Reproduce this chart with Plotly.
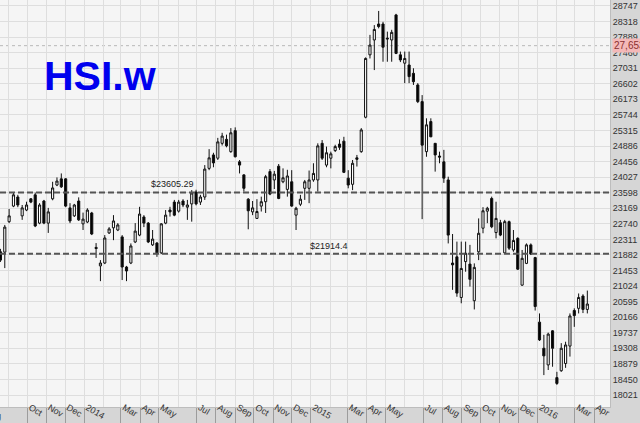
import plotly.graph_objects as go
import pandas as pd

# ---------------- data ----------------
first_week = "2013-08-19"
opens = [21970, 21960, 22800, 23230, 23480, 22960, 23120, 23430, 23540, 22760,
         23370, 22760, 23430, 23810, 23980, 23980, 23180, 22960, 23370, 22740,
         22790, 23040, 22090, 21580, 21660, 22490, 22630, 22570, 22380, 21550,
         21660, 22240, 22430, 22930, 22760, 22160, 22210, 21940, 22760, 23120,
         23340, 23090, 23370, 23200, 23290, 23620, 23340, 23480, 24270, 24640,
         24550, 24960, 25070, 24730, 25310, 24450, 24090, 23420, 23070, 22890,
         23230, 23350, 24180, 23950, 24330, 23900, 23690, 23900, 22980, 23280,
         23720, 23720, 23950, 23950, 24960, 24360, 24550, 24760, 24940, 25020,
         24000, 23830, 24560, 24730, 25680, 27400, 27810, 28250, 28250, 27860,
         27810, 28500, 27400, 27170, 27120, 26890, 26570, 26110, 24730, 25560,
         24960, 24610, 24450, 23950, 21660, 21830, 20710, 21700, 21630, 20620,
         21970, 22620, 23090, 23440, 22500, 22770, 21940, 22800, 22020, 22340,
         21050, 21650, 22160, 21810, 20030, 19310, 18850, 19790, 18500, 18690,
         18890, 19370, 20350, 20410, 20750, 20380]
highs = [22050, 22710, 23150, 23590, 23540, 23260, 23350, 23450, 23600, 23310,
         23400, 23180, 23900, 24020, 24130, 24000, 23310, 23290, 23470, 23050,
         23170, 23070, 22210, 21740, 22430, 22650, 22980, 22760, 22430, 21580,
         22200, 22760, 23210, 22980, 22790, 22570, 22240, 22760, 23120, 23210,
         23400, 23400, 23420, 23400, 23670, 23680, 23540, 24360, 24800, 24700,
         25110, 25250, 25200, 25380, 25400, 24500, 24110, 23450, 23370, 23420,
         23490, 24090, 24250, 24200, 24390, 24270, 24230, 24220, 23210, 23540,
         23950, 24210, 24410, 24960, 25050, 24870, 24730, 24920, 25070, 25140,
         24220, 24500, 24640, 25380, 27330, 27950, 28220, 28610, 28310, 28040,
         28090, 28530, 27490, 27490, 27490, 27030, 26620, 26290, 25650, 25650,
         24970, 24730, 24780, 24040, 22460, 22250, 22250, 22250, 22160, 21650,
         22890, 23200, 23210, 23490, 23350, 22850, 22850, 22830, 22570, 22370,
         22020, 22200, 22200, 21830, 20270, 19680, 19740, 19810, 18660, 19450,
         19490, 20270, 20410, 20820, 20800, 20900]
lows = [21690, 21520, 22760, 23200, 23200, 22850, 23090, 23310, 22650, 22730,
        22730, 22490, 23390, 23780, 23730, 23200, 22760, 22930, 22820, 22570,
        22760, 22430, 21800, 21160, 21630, 22460, 22290, 22540, 21190, 21160,
        21630, 22210, 22400, 22650, 22210, 22130, 21830, 21910, 22730, 22940,
        22950, 23050, 23200, 22850, 22800, 23250, 23260, 23400, 24220, 24300,
        24500, 24900, 24850, 24700, 24570, 24130, 23630, 22590, 22980, 22880,
        23080, 23040, 23530, 23700, 23420, 23860, 23490, 23210, 22570, 23230,
        23400, 23310, 23900, 23630, 24500, 24300, 24270, 24720, 24780, 24140,
        23720, 23670, 24320, 24700, 25650, 27300, 26980, 28130, 27210, 27210,
        27210, 27420, 27200, 26620, 26620, 26570, 26070, 22870, 24590, 25130,
        24180, 24410, 23870, 22200, 20920, 20730, 20550, 21420, 21010, 20380,
        21740, 22480, 22760, 22620, 22340, 22400, 21930, 22020, 21970, 21470,
        21030, 21630, 21880, 20350, 19510, 18570, 18710, 18800, 18300, 18660,
        18770, 19080, 19900, 20270, 20280, 20270]
closes = [21740, 22650, 22960, 23540, 23260, 23180, 23260, 23340, 22680, 23260,
          22760, 23070, 23730, 23920, 23760, 23230, 22820, 23260, 22850, 22870,
          23120, 22460, 22060, 21660, 22350, 22600, 22820, 22710, 21550, 21440,
          22130, 22540, 23010, 22760, 22240, 22320, 21940, 22740, 22980, 23070,
          22980, 23340, 23260, 23260, 23590, 23290, 23480, 24250, 24560, 24420,
          25000, 25160, 24890, 25250, 24590, 24360, 23720, 23100, 23180, 23080,
          23350, 24040, 23560, 24110, 23440, 24010, 24060, 23230, 23170, 23420,
          23900, 23950, 24130, 24890, 24550, 24700, 24670, 24870, 24850, 24160,
          23810, 24410, 24520, 25330, 27300, 27670, 28100, 28180, 27610, 27840,
          28020, 27440, 27260, 27300, 26800, 26660, 26110, 24910, 25470, 25140,
          24640, 24580, 24000, 22430, 21610, 20830, 21510, 21930, 21210, 21540,
          22480, 23100, 23170, 22660, 22890, 22430, 22800, 22070, 22280, 21490,
          21790, 22160, 21910, 20460, 19540, 19100, 19700, 19310, 18340, 19310,
          19400, 20200, 20210, 20710, 20380, 20530]

y_tick_values = [28747, 28318, 27889, 27460, 27031, 26602, 26173, 25744, 25315,
                 24886, 24456, 24027, 23598, 23169, 22740, 22311, 21882, 21453,
                 21024, 20595, 20166, 19737, 19308, 18879, 18450, 18021]
month_labels = ["Oct", "Nov", "Dec", "2014", "Mar", "Apr", "May", "Jul", "Aug",
                "Sep", "Oct", "Nov", "Dec", "2015", "Mar", "Apr", "May", "Jul",
                "Aug", "Sep", "Oct", "Nov", "Dec", "2016", "Mar", "Apr"]
month_label_dates = ["2013-10-01", "2013-11-01", "2013-12-01", "2014-01-01",
                     "2014-03-01", "2014-04-01", "2014-05-01", "2014-07-01",
                     "2014-08-01", "2014-09-01", "2014-10-01", "2014-11-01",
                     "2014-12-01", "2015-01-01", "2015-03-01", "2015-04-01",
                     "2015-05-01", "2015-07-01", "2015-08-01", "2015-09-01",
                     "2015-10-01", "2015-11-01", "2015-12-01", "2016-01-01",
                     "2016-03-01", "2016-04-01"]
grid_month_start = "2013-09-01"
grid_month_end = "2016-04-01"

level_values = [23605.29, 21914.4]
level_labels = ["$23605.29", "$21914.4"]
level_label_dates = ["2014-04-15", "2014-12-28"]
last_price = 27653
last_price_label = "27,653"
title_text = "HSI.w"

# ---------------- figure ----------------
dates = pd.date_range(first_week, periods=len(opens), freq="7D")
grid_months = pd.date_range(grid_month_start, grid_month_end, freq="MS")

FONT = "Liberation Sans, Arial, sans-serif"
GRID = "#dedede"

fig = go.Figure(go.Candlestick(
    x=dates, open=opens, high=highs, low=lows, close=closes,
    increasing=dict(line=dict(color="#111111", width=1), fillcolor="#ffffff"),
    decreasing=dict(line=dict(color="#111111", width=1), fillcolor="#000000"),
    whiskerwidth=0, showlegend=False, hoverinfo="skip",
))

shapes = []
for v in level_values:
    shapes.append(dict(type="line", xref="paper", x0=0, x1=1, yref="y", y0=v, y1=v,
                       line=dict(color="#555555", width=2, dash="6px,3px"), layer="above"))
shapes.append(dict(type="line", xref="paper", x0=0, x1=1, yref="y", y0=last_price,
                   y1=last_price, line=dict(color="#b8b8b8", width=1, dash="3px,3px"),
                   layer="below"))

annotations = []
for lbl, v, d in zip(level_labels, level_values, level_label_dates):
    annotations.append(dict(text=lbl, xref="x", x=d, xanchor="left", yref="y",
                            y=v, yanchor="bottom", yshift=1, showarrow=False,
                            font=dict(family=FONT, size=9, color="#222222")))
annotations += [
    dict(text="<b>" + title_text + "</b>", xref="paper", x=42 / 610, xanchor="left",
         yref="paper", y=1 - 76 / 407, yanchor="middle", showarrow=False,
         font=dict(family=FONT, size=41, color="#0000ee")),
    dict(text=last_price_label, xref="paper", x=1, xanchor="left", xshift=2,
         yref="y", y=last_price, yanchor="middle", showarrow=False,
         bgcolor="#f4b8b8", borderpad=1,
         font=dict(family=FONT, size=10, color="#8a3030")),
    dict(text="Aug", xref="paper", x=3 / 610, xanchor="right", yref="paper",
         y=-8.5 / 407, yanchor="middle", showarrow=False,
         font=dict(family=FONT, size=9, color="#333333")),
]

fig.update_layout(
    width=640, height=423,
    margin=dict(l=0, r=30, t=0, b=16, pad=0),
    paper_bgcolor="#d6d6d6",
    plot_bgcolor="#f5f5f5",
    font=dict(family=FONT, size=9, color="#333333"),
    shapes=shapes,
    annotations=annotations,
    xaxis=dict(
        type="date",
        range=["2013-08-18 07:00", "2016-04-26 12:00"],
        rangeslider=dict(visible=False),
        tickmode="array", tickvals=month_label_dates, ticktext=month_labels,
        ticks="outside", ticklen=15, tickwidth=1, tickcolor="#9c9c9c",
        ticklabelposition="outside right", ticklabelstandoff=-9, ticklabelshift=2,
        showgrid=True, gridcolor=GRID, gridwidth=1,
        minor=dict(tickmode="array", tickvals=grid_months, showgrid=True,
                   gridcolor=GRID, ticks=""),
        showline=True, linecolor="#bdbdbd", linewidth=1,
        tickfont=dict(family=FONT, size=9, color="#333333"),
        zeroline=False, fixedrange=True, automargin=False,
    ),
    yaxis=dict(
        side="right",
        range=[17690, 28912],
        tickmode="array", tickvals=y_tick_values,
        ticktext=[str(v) for v in y_tick_values],
        ticks="", showgrid=True, gridcolor=GRID, gridwidth=1,
        showline=True, linecolor="#bdbdbd", linewidth=1,
        tickfont=dict(family=FONT, size=9, color="#333333"),
        zeroline=False, fixedrange=True, automargin=False,
    ),
)

fig.write_html(
    "out.html",
    config={"displayModeBar": False},
    post_script="document.body.style.margin='0';document.body.style.padding='0';",
)
